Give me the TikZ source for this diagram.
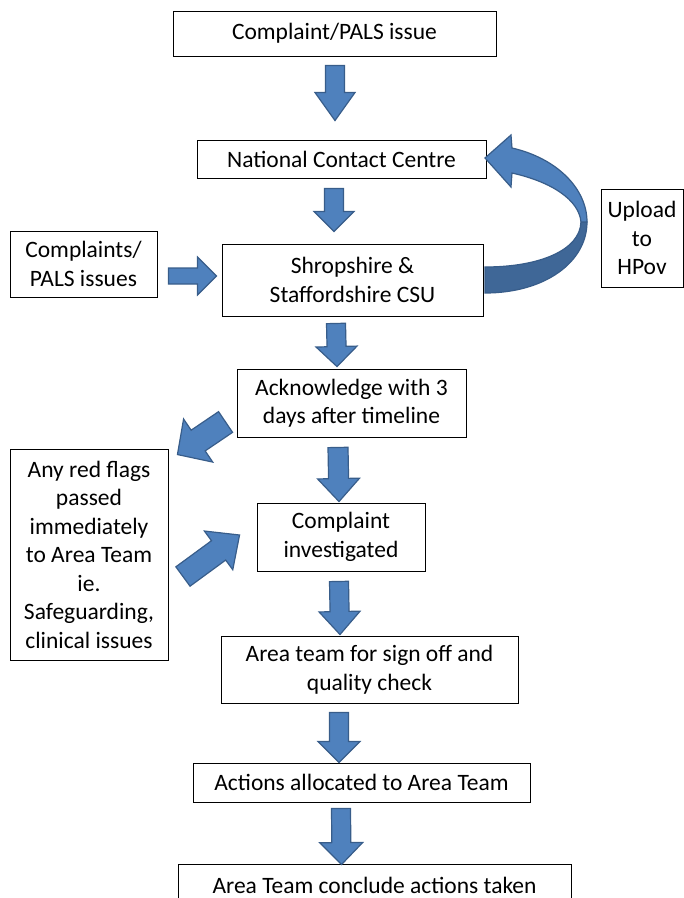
\documentclass[tikz,border=0pt]{standalone}
\usepackage{fontspec}
\setmainfont{Carlito}
\usetikzlibrary{calc}

\definecolor{arrowblue}{HTML}{4F81BD}
\definecolor{arrowedge}{HTML}{385D8A}
\definecolor{arrowdark}{HTML}{3F6797}

% block arrow: shaft half width, head half width, head length, tail, tip
\newcommand\blockarrow[5]{%
  \path (#4) coordinate (ba-t) (#5) coordinate (ba-h);
  \coordinate (ba-b) at ($(ba-h)!#3!(ba-t)$);
  \draw[fatarrow] ($(ba-t)!#1!90:(ba-h)$) -- ($(ba-b)!#1!90:(ba-h)$)
    -- ($(ba-b)!#2!90:(ba-h)$) -- (ba-h) -- ($(ba-b)!#2!-90:(ba-h)$)
    -- ($(ba-b)!#1!-90:(ba-h)$) -- ($(ba-t)!#1!-90:(ba-h)$) -- cycle;
}

\begin{document}
\begin{tikzpicture}[x=1pt,y=-1pt,
    box/.style={draw=black, line width=0.9pt, align=center, inner sep=0pt,
      font=\fontsize{23.5}{28.5}\selectfont},
    fatarrow/.style={fill=arrowblue, draw=arrowedge, line width=1.2pt, line join=miter}]
  \clip (0,0) rectangle (684,898);

  \node[box, minimum width=323pt, minimum height=45pt] (top) at (334.5,33.5) {Complaint/PALS issue};
  \node[box, minimum width=289pt, minimum height=38pt] (ncc) at (341.5,159) {National Contact Centre};
  \node[box, minimum width=261pt, minimum height=72pt] (csu) at (352.5,280) {Shropshire \&\\Staffordshire CSU};
  \node[box, minimum width=147pt, minimum height=66pt] (pals) at (83.5,264) {Complaints/\\PALS issues};
  \node[box, minimum width=82pt, minimum height=98pt] (upload) at (642,238) {Upload\\to\\HPov};
  \node[box, minimum width=229pt, minimum height=68pt] (ack) at (351.5,403) {Acknowledge with 3\\days after timeline};
  \node[box, minimum width=158pt, minimum height=211pt] (flags) at (89,554.5)
    {Any red flags\\passed\\immediately\\to Area Team\\ie.\\Safeguarding,\\clinical issues};
  \node[box, minimum width=168pt, minimum height=68pt] (inv) at (341,537) {Complaint\\investigated};
  \node[box, minimum width=297pt, minimum height=67pt] (signoff) at (369.5,669.5) {Area team for sign off and\\quality check};
  \node[box, minimum width=337pt, minimum height=39pt] (actions) at (361.5,782.5) {Actions allocated to Area Team};
  \node[box, minimum width=393pt, minimum height=42pt] (conclude) at (374.5,885) {Area Team conclude actions taken};

  % down the middle
  \blockarrow{9.5pt}{20pt}{28pt}{$(top.south)+(0.5,9)$}{$(ncc.north)+(-6.5,-19)$}
  \blockarrow{9.5pt}{20pt}{20pt}{$(ncc.south)+(-7.5,10)$}{$(csu.north)+(-18.5,-12)$}
  \blockarrow{9.5pt}{20.5pt}{20pt}{$(csu.south)+(-16.5,7)$}{$(ack.north)+(-14.5,-2)$}
  \blockarrow{10pt}{21pt}{23pt}{$(ack.south)+(-13.5,10)$}{$(inv.north)+(-2,-1)$}
  \blockarrow{9.5pt}{20.5pt}{23pt}{$(inv.south)+(-2,10)$}{$(signoff.north)+(-29.5,-1)$}
  \blockarrow{9.5pt}{21pt}{21pt}{$(signoff.south)+(-30.5,9)$}{$(actions.north)+(-22.5,0)$}
  \blockarrow{9.5pt}{21.5pt}{22pt}{$(actions.south)+(-20.5,6)$}{$(conclude.north)+(-33,1)$}

  % side arrows
  \blockarrow{8pt}{19pt}{19pt}{$(pals.east)+(11,12)$}{$(csu.west)+(-5,-4)$}
  \blockarrow{12.5pt}{26pt}{25pt}{$(ack.west)+(-11,19)$}{$(flags.north east)+(9,6)$}
  \blockarrow{12pt}{24pt}{26pt}{$(flags.east)+(14.5,22)$}{$(inv.west)+(-17,-2)$}

  % curved arrow back to the contact centre
  \draw[fatarrow, fill=arrowdark] (587,222) .. controls (587,262) and (545,293) .. (485,293)
    -- (485,267) .. controls (540,267) and (580,250) .. (581,222) -- cycle;
  \draw[fatarrow] (485,158) -- (511,135) -- (512,148) .. controls (556,158) and (587,188) .. (587,222)
    -- (581,222) .. controls (579,200) and (552,182) .. (512,173) -- (511,187) -- cycle;
\end{tikzpicture}
\end{document}
